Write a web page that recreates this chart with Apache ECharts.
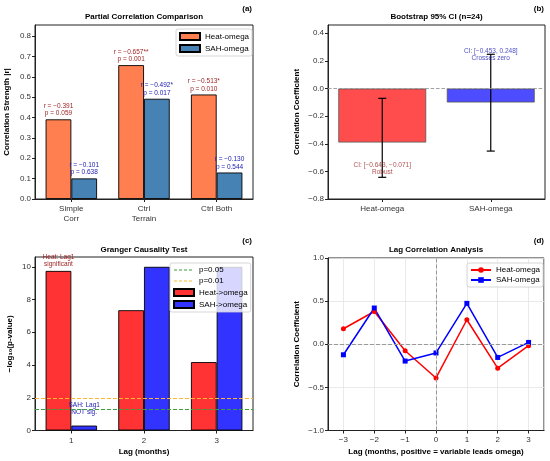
<!DOCTYPE html>
<html>
<head>
<meta charset="utf-8">
<title>Correlation analysis</title>
<script src="https://cdn.jsdelivr.net/npm/echarts@6/dist/echarts.min.js"></script>
<style>
  html, body { margin: 0; padding: 0; background: #fff; }
  #main { width: 550px; height: 461px; }
</style>
</head>
<body>
<div id="main"></div>
<script>
// (a) partial correlation
var corrCats = ['Simple\nCorr', 'Ctrl\nTerrain', 'Ctrl Both'];
var heatR = [-0.391, -0.657, -0.513];
var heatP = [0.059, 0.001, 0.010];
var sahR = [-0.101, -0.492, -0.130];
var sahP = [0.638, 0.017, 0.544];

// (b) bootstrap CI
var ciNames = ['Heat-omega', 'SAH-omega'];
var ciMean = [-0.391, -0.101];
var ciLow = [-0.643, -0.453];
var ciHigh = [-0.071, 0.248];
var ciNote = ['Robust', 'Crosses zero'];

// (c) granger, -log10(p), capped at 10
var lagCats = ['1', '2', '3'];
var heatLogP = [9.75, 7.35, 4.18];
var sahLogP = [0.3, 10.0, 10.0];
var pLevels = [0.05, 0.01];

// (d) lag correlation
var lags = [-3, -2, -1, 0, 1, 2, 3];
var heatLag = [0.18, 0.38, -0.075, -0.391, 0.284, -0.277, -0.017];
var sahLag = [-0.122, 0.42, -0.195, -0.101, 0.474, -0.153, 0.021];

var FONT = '"Liberation Sans", Arial, sans-serif';
var INK = '#222';
var RED_TXT = '#9B1B1B';
var BLUE_TXT = '#2020B4';
var GREEN_LN = '#3C9F3C';
var ORANGE_LN = '#FFB733';

function minus(s) { return String(s).replace(/-/g, '\u2212'); }
function fix(d) { return function (v) { return minus(v.toFixed(d)); }; }
function stars(p) { return p < 0.01 ? '**' : (p < 0.05 ? '*' : ''); }

function gridBox(l, t, w, h) {
  return { left: l, top: t, width: w, height: h, show: true, borderColor: INK, borderWidth: 1,
    containLabel: false, outerBoundsMode: 'none' };
}

function valAxis(gi, opt) {
  return {
    type: 'value', gridIndex: gi, min: opt.min, max: opt.max, interval: opt.interval,
    splitNumber: opt.splitNumber,
    name: opt.name, nameLocation: 'middle', nameGap: opt.gap,
    nameTextStyle: { fontFamily: FONT, fontSize: 8, fontWeight: 'bold', color: '#000' },
    axisLine: { show: true, onZero: false, lineStyle: { color: INK, width: 1 } },
    axisTick: { show: true, length: 3, lineStyle: { color: INK } },
    axisLabel: { fontFamily: FONT, fontSize: 8, color: '#333', margin: opt.margin || 4,
      showMinLabel: opt.showMin !== false, showMaxLabel: opt.showMax !== false,
      formatter: fix(opt.digits) },
    splitLine: { show: !!opt.grid, lineStyle: { color: '#e4e4e4', width: 0.8 } }
  };
}

function catAxis(gi, data, name, gap) {
  return {
    type: 'category', gridIndex: gi, data: data,
    name: name, nameLocation: 'middle', nameGap: gap,
    nameTextStyle: { fontFamily: FONT, fontSize: 8, fontWeight: 'bold', color: '#000' },
    axisLine: { show: true, onZero: false, lineStyle: { color: INK, width: 1 } },
    axisTick: { show: true, alignWithLabel: true, length: 3, lineStyle: { color: INK } },
    axisLabel: { fontFamily: FONT, fontSize: 8, color: '#333', margin: 5, lineHeight: 10, interval: 0 },
    splitLine: { show: false }
  };
}

function legendBox(l, t, names, gap) {
  return {
    left: l, top: t, orient: 'vertical', data: names, itemWidth: 20, itemHeight: 7, itemGap: gap,
    padding: [3, 3], backgroundColor: 'rgba(255,255,255,0.8)', borderColor: '#ccc', borderWidth: 0.8,
    borderRadius: 2, textStyle: { fontFamily: FONT, fontSize: 8, color: '#000' },
    formatter: function (n) { return n.split('#')[0]; }, selectedMode: false
  };
}

// dashed line entry for the threshold lines, symbol hidden
function dashItem(name) {
  return { name: name, lineStyle: { type: [3, 2], width: 1.2 }, itemStyle: { opacity: 0 } };
}

function txt(x, y, s, align) {
  return { type: 'text', x: x, y: y, silent: true,
    style: { text: s, align: align || 'center', verticalAlign: 'middle',
      font: 'bold 8px ' + FONT, fill: '#000' } };
}

var chart = echarts.init(document.getElementById('main'), null, { renderer: 'canvas' });

var option = {
  animation: false,
  backgroundColor: '#fff',
  grid: [
    gridBox(35, 25, 218, 174),
    gridBox(328, 25, 217, 174),
    gridBox(35, 257, 218, 173.5),
    gridBox(328, 258, 216, 172.5)
  ],
  xAxis: [
    catAxis(0, corrCats),
    catAxis(1, ciNames),
    catAxis(2, lagCats, 'Lag (months)', 17),
    valAxis(3, { min: -3.5, max: 3.5, splitNumber: 7, digits: 0, showMin: false, showMax: false,
      grid: true, margin: 5, name: 'Lag (months, positive = variable leads omega)', gap: 17 })
  ],
  yAxis: [
    valAxis(0, { min: 0, max: 0.854, interval: 0.1, digits: 1, showMax: false,
      name: 'Correlation Strength |r|', gap: 24 }),
    valAxis(1, { min: -0.8, max: 0.46, interval: 0.2, digits: 1, showMax: false,
      name: 'Correlation Coefficient', gap: 27 }),
    valAxis(2, { min: 0, max: 10.6, interval: 2, digits: 0, showMax: false,
      name: '\u2212log\u2081\u2080(p-value)', gap: 21 }),
    valAxis(3, { min: -1, max: 1, interval: 0.5, digits: 1, grid: true,
      name: 'Correlation Coefficient', gap: 27 })
  ],
  legend: [
    Object.assign(legendBox(176, 29, ['Heat-omega', 'SAH-omega'], 3), { icon: 'rect' }),
    legendBox(170, 263, [dashItem('p=0.05'), dashItem('p=0.01'),
      { name: 'Heat->omega', icon: 'rect' }, { name: 'SAH->omega', icon: 'rect' }], 3),
    legendBox(467, 263, ['Heat-omega#d', 'SAH-omega#d'], 2)
  ],
  graphic: [
    txt(144, 17, 'Partial Correlation Comparison'),
    txt(436.5, 17, 'Bootstrap 95% CI (n=24)'),
    txt(144, 249.5, 'Granger Causality Test'),
    txt(436, 250, 'Lag Correlation Analysis'),
    txt(252, 8.5, '(a)', 'right'),
    txt(544, 8.5, '(b)', 'right'),
    txt(252, 241, '(c)', 'right'),
    txt(544, 241, '(d)', 'right')
  ],
  series: [
    // (a)
    {
      type: 'bar', name: 'Heat-omega', xAxisIndex: 0, yAxisIndex: 0,
      data: heatR.map(Math.abs), barWidth: '35.4%', barGap: '0%',
      itemStyle: { color: '#FF7F50', borderColor: '#000', borderWidth: 0.9 },
      label: { show: true, position: 'top', distance: 2, fontFamily: FONT, fontSize: 6.5,
        lineHeight: 7.5, color: RED_TXT,
        formatter: function (p) {
          var i = p.dataIndex;
          return 'r = ' + minus(heatR[i].toFixed(3)) + stars(heatP[i]) + '\np = ' + heatP[i].toFixed(3);
        } }
    },
    {
      type: 'bar', name: 'SAH-omega', xAxisIndex: 0, yAxisIndex: 0,
      data: sahR.map(Math.abs), barWidth: '35.4%', barGap: '0%',
      itemStyle: { color: '#4682B4', borderColor: '#000', borderWidth: 0.9 },
      label: { show: true, position: 'top', distance: 2, fontFamily: FONT, fontSize: 6.5,
        lineHeight: 7.5, color: BLUE_TXT,
        formatter: function (p) {
          var i = p.dataIndex;
          return 'r = ' + minus(sahR[i].toFixed(3)) + stars(sahP[i]) + '\np = ' + sahP[i].toFixed(3);
        } }
    },
    // (b)
    {
      type: 'bar', name: 'Bootstrap', xAxisIndex: 1, yAxisIndex: 1,
      data: ciMean, barWidth: '81%',
      itemStyle: { borderColor: '#555', borderWidth: 0.8,
        color: function (p) { return ['#FF4D4D', '#4D4DFF'][p.dataIndex]; } },
      markLine: { silent: true, symbol: ['none', 'none'], label: { show: false },
        lineStyle: { color: '#999', type: 'dashed', width: 0.9 }, data: [{ yAxis: 0 }] }
    },
    {
      type: 'custom', name: 'CI', xAxisIndex: 1, yAxisIndex: 1, silent: true, z: 3,
      data: ciLow.map(function (lo, i) { return [i, lo, ciHigh[i]]; }),
      renderItem: function (params, api) {
        var lo = api.coord([api.value(0), api.value(1)]);
        var hi = api.coord([api.value(0), api.value(2)]);
        var c = 4;
        var st = { stroke: '#000', lineWidth: 1.2 };
        return { type: 'group', children: [
          { type: 'line', shape: { x1: lo[0], y1: lo[1], x2: hi[0], y2: hi[1] }, style: st },
          { type: 'line', shape: { x1: lo[0] - c, y1: lo[1], x2: lo[0] + c, y2: lo[1] }, style: st },
          { type: 'line', shape: { x1: hi[0] - c, y1: hi[1], x2: hi[0] + c, y2: hi[1] }, style: st }
        ] };
      }
    },
    {
      type: 'scatter', name: 'CI text', xAxisIndex: 1, yAxisIndex: 1, symbolSize: 0, silent: true, z: 4,
      data: [
        { value: [0, ciLow[0]], label: { position: 'top', distance: 2, color: RED_TXT } },
        { value: [1, ciHigh[1]], label: { position: 'inside', color: BLUE_TXT } }
      ],
      label: { show: true, fontFamily: FONT, fontSize: 6.5, lineHeight: 7,
        formatter: function (p) {
          var i = p.dataIndex;
          return 'CI: [' + minus(ciLow[i].toFixed(3)) + ', ' + minus(ciHigh[i].toFixed(3)) + ']\n' + ciNote[i];
        } }
    },
    // (c)
    {
      type: 'bar', name: 'Heat->omega', xAxisIndex: 2, yAxisIndex: 2,
      barWidth: '35.4%', barGap: '0%',
      itemStyle: { color: '#FF3333', borderColor: '#000', borderWidth: 0.9 },
      data: heatLogP.map(function (v, i) {
        return i === 0 ? { value: v, label: { show: true, position: 'top', distance: 3,
          fontFamily: FONT, fontSize: 6.5, lineHeight: 7, color: RED_TXT,
          formatter: 'Heat: Lag' + lagCats[0] + '\nsignificant' } } : v;
      }),
      markLine: { silent: true, symbol: ['none', 'none'], label: { show: false }, z: 5,
        data: [
          { yAxis: -Math.log10(pLevels[0]), lineStyle: { color: GREEN_LN, type: 'dashed', width: 1 } },
          { yAxis: -Math.log10(pLevels[1]), lineStyle: { color: ORANGE_LN, type: 'dashed', width: 1 } }
        ] }
    },
    {
      type: 'bar', name: 'SAH->omega', xAxisIndex: 2, yAxisIndex: 2,
      barWidth: '35.4%', barGap: '0%',
      itemStyle: { color: '#3333FF', borderColor: '#000', borderWidth: 0.9 },
      data: sahLogP.map(function (v, i) {
        return i === 0 ? { value: v, label: { show: true, position: 'top', distance: 10,
          fontFamily: FONT, fontSize: 6.5, lineHeight: 7, color: BLUE_TXT,
          formatter: 'SAH: Lag' + lagCats[0] + '\nNOT sig.' } } : v;
      })
    },
    // legend-only entries for the threshold lines
    {
      type: 'line', name: 'p=0.05', xAxisIndex: 2, yAxisIndex: 2, data: [], symbol: 'none',
      color: GREEN_LN, lineStyle: { color: GREEN_LN, type: 'dashed', width: 1 }
    },
    {
      type: 'line', name: 'p=0.01', xAxisIndex: 2, yAxisIndex: 2, data: [], symbol: 'none',
      color: ORANGE_LN, lineStyle: { color: ORANGE_LN, type: 'dashed', width: 1 }
    },
    // (d)
    {
      type: 'line', name: 'Heat-omega#d', xAxisIndex: 3, yAxisIndex: 3,
      data: lags.map(function (l, i) { return [l, heatLag[i]]; }),
      symbol: 'circle', symbolSize: 5, showAllSymbol: true,
      lineStyle: { color: '#FF0000', width: 1.5 }, itemStyle: { color: '#FF0000' },
      markLine: { silent: true, symbol: ['none', 'none'], label: { show: false },
        lineStyle: { color: '#999', type: 'dashed', width: 1 },
        data: [{ xAxis: 0 }, { yAxis: 0 }] }
    },
    {
      type: 'line', name: 'SAH-omega#d', xAxisIndex: 3, yAxisIndex: 3,
      data: lags.map(function (l, i) { return [l, sahLag[i]]; }),
      symbol: 'rect', symbolSize: 5, showAllSymbol: true,
      lineStyle: { color: '#0000FF', width: 1.5 }, itemStyle: { color: '#0000FF' }
    }
  ]
};

chart.setOption(option);
</script>
</body>
</html>
